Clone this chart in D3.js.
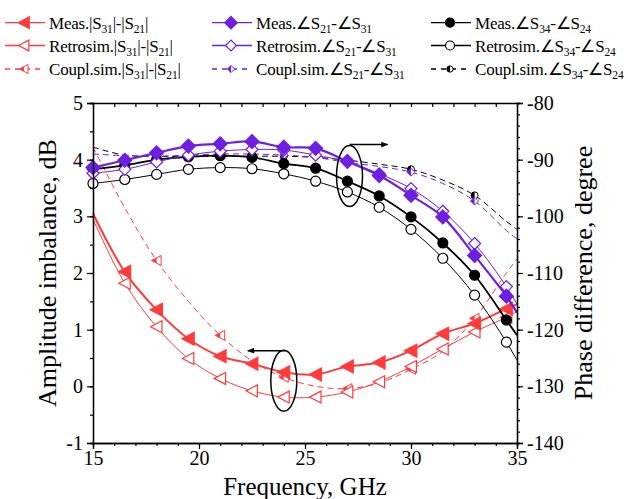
<!DOCTYPE html>
<html lang="en">
<head>
<meta charset="UTF-8">
<title>Amplitude and phase imbalance</title>
<script src="https://cdn.jsdelivr.net/npm/d3@7/dist/d3.min.js"></script>
<style>
    body { margin: 0; background: #fff; }
    svg text { font-family: "Liberation Serif", "Times New Roman", serif; fill: #000; }
</style>
</head>
<body>
<svg id="chart" width="628" height="499"></svg>
<script>
// frequency grid of the markers (GHz), last point = band edge
const freq = [15, 16.5, 18, 19.5, 21, 22.5, 24, 25.5, 27, 28.5, 30, 31.5, 33, 34.5, 35]

// amplitude imbalance |S31|-|S21|, dB
const ampMeas     = [3.05, 2.02, 1.35, 0.84, 0.53, 0.40, 0.25, 0.21, 0.35, 0.42, 0.63, 0.93, 1.11, 1.37, 1.45]
const ampRetro    = [2.95, 1.82, 1.05, 0.49, 0.14, -0.08, -0.19, -0.19, -0.10, 0.08, 0.35, 0.66, 0.96, 1.22, 1.32]
const ampCoupl    = [4.22, 3.15, 2.22, 1.50, 0.90, 0.45, 0.16, 0.00, -0.04, 0.06, 0.30, 0.62, 1.20, 2.00, 2.25]

// phase difference S21-S31, degree
const ph2131Meas  = [-91.4, -90.1, -88.8, -87.6, -87.2, -86.8, -87.8, -88.0, -90.3, -92.8, -96.3, -100.1, -106.9, -114.1, -117.0]
const ph2131Retro = [-92.4, -91.7, -90.4, -89.2, -88.5, -88.2, -88.3, -89.2, -90.4, -92.5, -95.1, -99.1, -104.8, -112.4, -115.5]
const ph2131Coupl = [-89.0, -89.3, -89.4, -89.2, -89.0, -89.0, -89.2, -89.6, -90.5, -91.2, -92.2, -94.2, -97.3, -102.5, -104.0]

// phase difference S34-S24, degree
const ph3424Meas  = [-91.7, -91.0, -90.0, -89.5, -89.3, -89.6, -90.7, -91.5, -93.8, -96.4, -100.1, -104.7, -110.4, -118.3, -121.0]
const ph3424Retro = [-94.2, -93.5, -92.6, -91.7, -91.4, -91.6, -92.5, -93.8, -95.7, -98.4, -102.3, -107.4, -113.9, -122.2, -125.4]
const ph3424Coupl = [-87.8, -89.2, -89.4, -89.4, -89.4, -89.4, -89.4, -89.6, -90.1, -90.8, -91.7, -93.6, -96.3, -100.9, -102.3]

const xTicks = [15, 20, 25, 30, 35]
const yLeftTicks = [-1, 0, 1, 2, 3, 4, 5]
const yRightTicks = [-140, -130, -120, -110, -100, -90, -80]

const RED = '#ff3c3c'
const PURPLE = '#6e1fe0'
const BLACK = '#000'

const svg = d3.select('#chart')
const margin = { left: 93, top: 103, right: 111, bottom: 56 }
const width = 628, height = 499
const innerW = width - margin.left - margin.right
const innerH = height - margin.top - margin.bottom

const x = d3.scaleLinear().domain([15, 35]).range([0, innerW])
const yL = d3.scaleLinear().domain([-1, 5]).range([innerH, 0])
const yR = d3.scaleLinear().domain([-140, -80]).range([innerH, 0])

const g = svg.append('g').attr('transform', `translate(${margin.left},${margin.top})`)

// ---------- marker shapes ----------
const shapes = {
    tri: s => `M${-s},0L${s * 0.9},${-s}L${s * 0.9},${s}Z`,
    triHalf: s => `M${-s},0L0,${-s * 0.5}L0,${s * 0.5}Z`,
    diamond: s => `M0,${-s}L${s},0L0,${s}L${-s},0Z`,
    diamondHalf: s => `M0,${-s}L0,${s}L${-s},0Z`,
    circle: s => `M${-s},0A${s},${s} 0 1,1 ${s},0A${s},${s} 0 1,1 ${-s},0Z`,
    circleHalf: s => `M0,${-s}A${s},${s} 0 0,0 0,${s}Z`
}

const drawMarker = (sel, px, py, m) => {
    const mg = sel.append('g').attr('transform', `translate(${px},${py})`)
    if (m.half) {
        mg.append('path').attr('d', shapes[m.shape](m.size)).attr('fill', '#fff')
            .attr('stroke', m.color).attr('stroke-width', 1)
        mg.append('path').attr('d', shapes[m.shape + 'Half'](m.size)).attr('fill', m.color)
    } else {
        mg.append('path').attr('d', shapes[m.shape](m.size))
            .attr('fill', m.filled ? m.color : '#fff')
            .attr('stroke', m.color).attr('stroke-width', 1.2)
    }
}

// ---------- series ----------
const series = [
    { ys: ampCoupl, axis: yL, color: RED, dash: '6,4', lw: 1, shape: 'tri', half: true, size: 5, every: 2, start: 2 },
    { ys: ampRetro, axis: yL, color: RED, lw: 1, shape: 'tri', filled: false, size: 6, every: 1, start: 1 },
    { ys: ampMeas, axis: yL, color: RED, lw: 2, shape: 'tri', filled: true, size: 6.5, every: 1, start: 1 },
    { ys: ph3424Coupl, axis: yR, color: BLACK, dash: '6,4', lw: 1, shape: 'circle', half: true, size: 3.5, every: 2, start: 2 },
    { ys: ph2131Coupl, axis: yR, color: PURPLE, dash: '6,4', lw: 1, shape: 'diamond', half: true, size: 4, every: 2, start: 2 },
    { ys: ph3424Retro, axis: yR, color: BLACK, lw: 1, shape: 'circle', filled: false, size: 5, every: 1, start: 0 },
    { ys: ph3424Meas, axis: yR, color: BLACK, lw: 1.8, shape: 'circle', filled: true, size: 5, every: 1, start: 0 },
    { ys: ph2131Retro, axis: yR, color: PURPLE, lw: 1, shape: 'diamond', filled: false, size: 6, every: 1, start: 0 },
    { ys: ph2131Meas, axis: yR, color: PURPLE, lw: 2.2, shape: 'diamond', filled: true, size: 7, every: 1, start: 0 }
]

series.forEach(s => {
    const pts = freq.map((f, i) => ({ f: f, v: s.ys[i], i: i }))
    const line = d3.line().x(d => x(d.f)).y(d => s.axis(d.v)).curve(d3.curveCatmullRom)
    g.append('path').datum(pts)
        .attr('d', line)
        .attr('fill', 'none')
        .attr('stroke', s.color)
        .attr('stroke-width', s.lw)
        .attr('stroke-dasharray', s.dash || null)
    pts.filter(d => d.i >= s.start && d.f < 35 && (d.i - s.start) % s.every === 0)
        .forEach(d => drawMarker(g, x(d.f), s.axis(d.v), s))
})

// ---------- axes ----------
const axisStyle = sel => {
    sel.selectAll('path').attr('stroke', '#000').attr('stroke-width', 1.3)
    sel.selectAll('line').attr('stroke', '#000').attr('stroke-width', 1.2)
    sel.selectAll('text').attr('font-size', 20).attr('font-family', '"Liberation Serif", serif')
}

// minor ticks first
g.append('g').attr('transform', `translate(0,${innerH})`)
    .call(d3.axisBottom(x).tickValues(d3.range(15, 35.01, 1)).tickSize(3).tickFormat(''))
    .call(axisStyle)
g.append('g')
    .call(d3.axisTop(x).tickValues(d3.range(15, 35.01, 1)).tickSizeInner(-4).tickSizeOuter(0).tickFormat(''))
    .call(axisStyle)
g.append('g')
    .call(d3.axisLeft(yL).tickValues(d3.range(-1, 5.01, 0.5)).tickSize(3).tickFormat(''))
    .call(axisStyle)
g.append('g').attr('transform', `translate(${innerW},0)`)
    .call(d3.axisRight(yR).tickValues(d3.range(-140, -79, 2)).tickSize(3).tickFormat(''))
    .call(axisStyle)

// major ticks with labels
g.append('g').attr('transform', `translate(0,${innerH})`)
    .call(d3.axisBottom(x).tickValues(xTicks).tickSize(6).tickPadding(2))
    .call(axisStyle)
g.append('g')
    .call(d3.axisLeft(yL).tickValues(yLeftTicks).tickSize(6).tickPadding(4).tickFormat(d3.format('d')))
    .call(axisStyle)
g.append('g').attr('transform', `translate(${innerW},0)`)
    .call(d3.axisRight(yR).tickValues(yRightTicks).tickSize(6).tickPadding(4).tickFormat(d3.format('d')))
    .call(axisStyle)
g.selectAll('.tick text').text(function () { return this.textContent.replace('\u2212', '-') })

// axis titles
svg.append('text').attr('x', margin.left + innerW / 2).attr('y', 495)
    .attr('text-anchor', 'middle').attr('font-size', 25).text('Frequency, GHz')
svg.append('text').attr('transform', `translate(56,${margin.top + innerH / 2}) rotate(-90)`)
    .attr('text-anchor', 'middle').attr('font-size', 26).text('Amplitude imbalance, dB')
svg.append('text').attr('transform', `translate(592,${margin.top + innerH / 2}) rotate(-90)`)
    .attr('text-anchor', 'middle').attr('font-size', 26).text('Phase difference, degree')

// ---------- annotations: ellipses + arrows ----------
svg.append('defs').append('marker')
    .attr('id', 'arrow').attr('viewBox', '0 0 10 10').attr('refX', 9).attr('refY', 5)
    .attr('markerWidth', 9).attr('markerHeight', 7).attr('markerUnits', 'userSpaceOnUse')
    .attr('orient', 'auto')
    .append('path').attr('d', 'M0,1L10,5L0,9Z').attr('fill', '#000')

const notes = [
    { f: 24, v: 0.1, axis: yL, dir: -1 },
    { f: 27.1, v: -92.9, axis: yR, dir: 1 }
]
notes.forEach(n => {
    const cx = x(n.f), cy = n.axis(n.v)
    g.append('ellipse').attr('cx', cx).attr('cy', cy).attr('rx', 13).attr('ry', 30.5)
        .attr('fill', 'none').attr('stroke', '#000').attr('stroke-width', 1.5)
    const ay = n.dir < 0 ? cy - 30 : cy - 31.5
    const x0 = n.dir < 0 ? cx + 2 : cx
    g.append('line').attr('x1', x0).attr('y1', ay).attr('x2', x0 + n.dir * 38).attr('y2', ay)
        .attr('stroke', '#000').attr('stroke-width', 1.5).attr('marker-end', 'url(#arrow)')
})

// ---------- legend ----------
const legendRows = [
    { col: 0, row: 0, s: series[2], dash: null, parts: [['Meas.|S'], ['31', 1], ['|-|S'], ['21', 1], ['|']] },
    { col: 0, row: 1, s: series[1], dash: null, parts: [['Retrosim.|S'], ['31', 1], ['|-|S'], ['21', 1], ['|']] },
    { col: 0, row: 2, s: series[0], dash: '5,5', parts: [['Coupl.sim.|S'], ['31', 1], ['|-|S'], ['21', 1], ['|']] },
    { col: 1, row: 0, s: series[8], dash: null, parts: [['Meas.\u2220S'], ['21', 1], ['-\u2220S'], ['31', 1]] },
    { col: 1, row: 1, s: series[7], dash: null, parts: [['Retrosim.\u2220S'], ['21', 1], ['-\u2220S'], ['31', 1]] },
    { col: 1, row: 2, s: series[4], dash: '5,5', parts: [['Coupl.sim.\u2220S'], ['21', 1], ['-\u2220S'], ['31', 1]] },
    { col: 2, row: 0, s: series[6], dash: null, parts: [['Meas.\u2220S'], ['34', 1], ['-\u2220S'], ['24', 1]] },
    { col: 2, row: 1, s: series[5], dash: null, parts: [['Retrosim.\u2220S'], ['34', 1], ['-\u2220S'], ['24', 1]] },
    { col: 2, row: 2, s: series[3], dash: '5,5', parts: [['Coupl.sim.\u2220S'], ['34', 1], ['-\u2220S'], ['24', 1]] }
]
const colX = [5, 212, 431]
const rowY = [22.7, 45.5, 69]

const legend = svg.append('g')
legendRows.forEach(r => {
    const lx = colX[r.col], ly = rowY[r.row]
    legend.append('line').attr('x1', lx).attr('x2', lx + 40).attr('y1', ly).attr('y2', ly)
        .attr('stroke', r.s.color).attr('stroke-width', 1.3).attr('stroke-dasharray', r.dash)
    drawMarker(legend, lx + 19, ly, Object.assign({}, r.s, { size: r.s.size * 0.9 }))
    const t = legend.append('text').attr('x', lx + 44).attr('y', ly + 6).attr('font-size', 17)
        .attr('letter-spacing', -0.2)
    r.parts.forEach(p => {
        const ts = t.append('tspan').text(p[0])
        if (p[1]) ts.attr('font-size', 11.5).attr('dy', 4)
        else if (t.selectAll('tspan').size() > 1) ts.attr('dy', -4)
    })
})
</script>
</body>
</html>
